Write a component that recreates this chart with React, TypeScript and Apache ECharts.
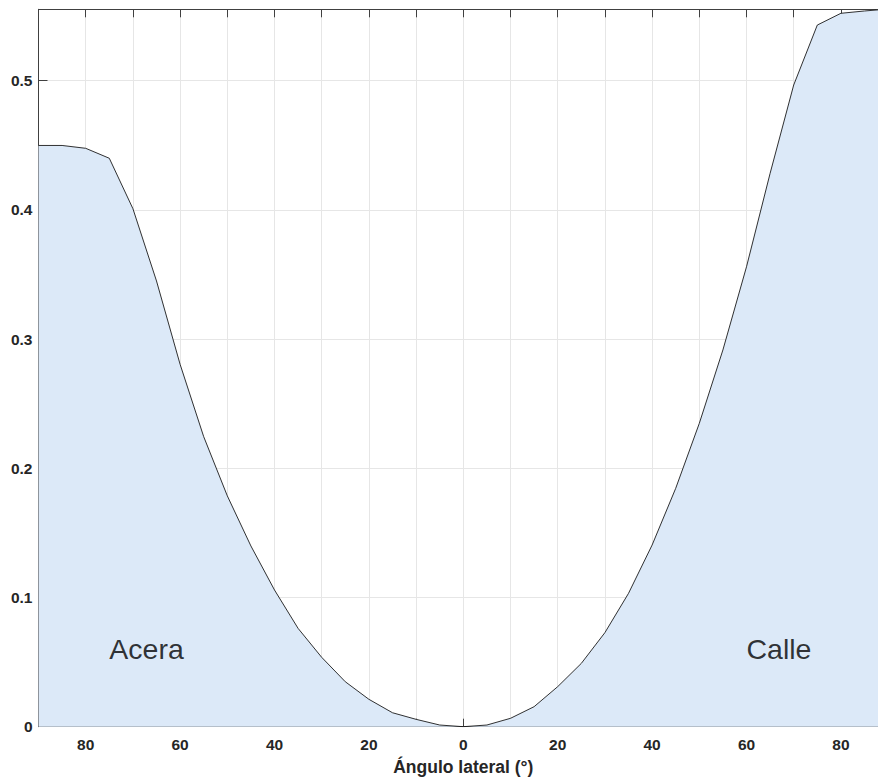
import React, { useEffect, useRef } from "react";
import * as echarts from "echarts";

// Lateral angle (deg): negative = sidewalk side (Acera), positive = street side (Calle)
const angles = [
  -90, -85, -80, -75, -70, -65, -60, -55, -50, -45, -40, -35, -30, -25, -20, -15, -10, -5,
  0, 5, 10, 15, 20, 25, 30, 35, 40, 45, 50, 55, 60, 65, 70, 75, 80, 85, 90,
];
const values = [
  0.4499, 0.4499, 0.4477, 0.44, 0.401, 0.345, 0.2805, 0.2245, 0.1787, 0.1399, 0.1058, 0.0761,
  0.0537, 0.0348, 0.0212, 0.0108, 0.0057, 0.0013, 0, 0.0013, 0.0065, 0.0155, 0.031, 0.049,
  0.0728, 0.1032, 0.1406, 0.1845, 0.2348, 0.2916, 0.356, 0.4283, 0.4967, 0.5431, 0.5522,
  0.554, 0.5555,
];
const annotations = [
  { x: -75, y: 0.06, text: "Acera" },
  { x: 60, y: 0.06, text: "Calle" },
];
const xTicks = { min: -90, max: 90, interval: 10 };
const yTicks = { min: 0, max: 0.5553, interval: 0.1 };
const xName = "Ángulo lateral (°)";

const FONT = "'Liberation Sans', Arial, Helvetica, sans-serif";
const AXIS = "#404040";
const GRID = "#e6e6e6";

export default function App() {
  const ref = useRef<HTMLDivElement>(null);
  useEffect(() => {
    if (!ref.current) return;
    const chart = echarts.init(ref.current, null, { renderer: "svg" });
    const xFmt = (v: number) => (Math.round(v) % 20 === 0 ? String(Math.abs(Math.round(v))) : "");
    const yFmt = (v: number) => {
      const r = Math.round(v * 10) / 10;
      return Math.abs(r - v) < 1e-6 ? String(r) : "";
    };
    chart.setOption({
      animation: false,
      backgroundColor: "#ffffff",
      grid: { left: 38.5, right: 11.9, top: 9.3, bottom: 54.3, containLabel: false },
      xAxis: [
        {
          type: "value",
          position: "bottom",
          min: xTicks.min,
          max: xTicks.max,
          interval: xTicks.interval,
          name: xName,
          nameLocation: "middle",
          nameGap: 31,
          nameTextStyle: { fontFamily: FONT, fontSize: 17.5, fontWeight: "bold", color: "#262626" },
          axisLine: { show: true, onZero: false, lineStyle: { color: AXIS, width: 1 } },
          axisTick: { show: true, inside: true, length: 8, lineStyle: { color: AXIS } },
          axisLabel: {
            formatter: xFmt,
            margin: 10,
            fontFamily: FONT,
            fontSize: 15.5,
            fontWeight: "bold",
            color: "#262626",
          },
          splitLine: { show: true, lineStyle: { color: GRID, width: 1 } },
        },
        {
          type: "value",
          position: "top",
          min: xTicks.min,
          max: xTicks.max,
          interval: xTicks.interval,
          axisLine: { show: true, onZero: false, lineStyle: { color: AXIS, width: 1 } },
          axisTick: { show: true, inside: true, length: 8, lineStyle: { color: AXIS } },
          axisLabel: { show: false },
          splitLine: { show: false },
        },
      ],
      yAxis: [
        {
          type: "value",
          position: "left",
          min: yTicks.min,
          max: yTicks.max,
          interval: yTicks.interval,
          axisLine: { show: true, onZero: false, lineStyle: { color: AXIS, width: 1 } },
          axisTick: { show: true, inside: true, length: 9, lineStyle: { color: AXIS } },
          axisLabel: {
            formatter: yFmt,
            showMaxLabel: false,
            margin: 6,
            fontFamily: FONT,
            fontSize: 15.5,
            fontWeight: "bold",
            color: "#262626",
          },
          splitLine: { show: true, lineStyle: { color: GRID, width: 1 } },
        },
        {
          type: "value",
          position: "right",
          min: yTicks.min,
          max: yTicks.max,
          interval: yTicks.interval,
          axisLine: { show: true, onZero: false, lineStyle: { color: AXIS, width: 1 } },
          axisTick: { show: true, inside: true, length: 9, lineStyle: { color: AXIS } },
          axisLabel: { show: false },
          splitLine: { show: false },
        },
      ],
      series: [
        {
          type: "line",
          data: angles.map((a, i) => [a, values[i]]),
          showSymbol: false,
          symbol: "none",
          lineStyle: { color: "#1a1a1a", width: 0.9 },
          areaStyle: { color: "#dce9f8", opacity: 1, origin: "start" },
          z: 2,
        },
        {
          type: "scatter",
          data: annotations.map((a) => [a.x, a.y, a.text]),
          symbolSize: 0,
          silent: true,
          label: {
            show: true,
            position: "right",
            distance: 0,
            formatter: (p: any) => p.data[2],
            fontFamily: FONT,
            fontSize: 28.5,
            color: "#000000",
            verticalAlign: "middle",
          },
          z: 5,
        },
      ],
    });
    return () => chart.dispose();
  }, []);
  return (
    <div
      style={{ position: "absolute", left: 0, top: 0, width: 878, height: 781, overflow: "hidden", background: "#fff" }}
    >
      <div ref={ref} style={{ width: 900, height: 781 }} />
    </div>
  );
}
